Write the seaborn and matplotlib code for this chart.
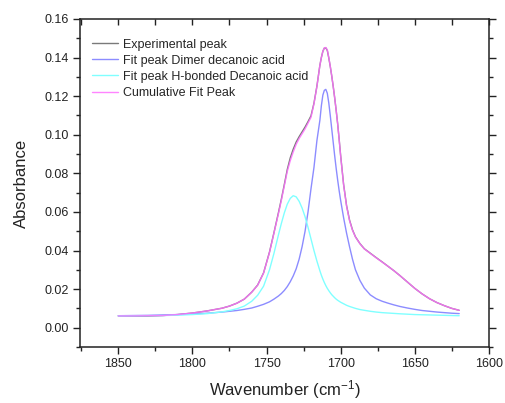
import numpy as np
import pandas as pd
import matplotlib
matplotlib.use("Agg")
import matplotlib.pyplot as plt
import seaborn as sns
from matplotlib.ticker import MultipleLocator, FormatStrFormatter

wavenumber = [1850, 1840, 1830, 1820, 1810, 1800, 1790, 1780, 1775, 1770, 1765, 1760,
              1756, 1752, 1748, 1745, 1742, 1740, 1738, 1736, 1734, 1732, 1730, 1728,
              1726, 1724, 1722, 1720, 1718, 1716, 1714, 1713, 1712, 1711, 1710, 1709,
              1708, 1707, 1706, 1705, 1704, 1703, 1702, 1701, 1700, 1698, 1696, 1694,
              1692, 1690, 1687, 1684, 1680, 1676, 1672, 1668, 1664, 1660, 1655, 1650,
              1645, 1640, 1635, 1630, 1625, 1620]

experimental = [0.0061, 0.0059, 0.0060, 0.0063, 0.0068, 0.0076, 0.0087, 0.0101, 0.0112, 0.0127,
                0.0148, 0.0184, 0.0221, 0.0284, 0.0392, 0.0492, 0.0595, 0.0666, 0.0742, 0.0820,
                0.0880, 0.0925, 0.0962, 0.0990, 0.1015, 0.1040, 0.1068, 0.1098, 0.1163, 0.1252,
                0.1360, 0.1400, 0.1432, 0.1449, 0.1450, 0.1437, 0.1398, 0.1354, 0.1304, 0.1250,
                0.1190, 0.1126, 0.1056, 0.0977, 0.0893, 0.0743, 0.0633, 0.0558, 0.0507, 0.0471,
                0.0436, 0.0409, 0.0386, 0.0363, 0.0341, 0.0318, 0.0295, 0.0270, 0.0237, 0.0204,
                0.0175, 0.0150, 0.0130, 0.0114, 0.0100, 0.0090]

cumulative = [0.0061, 0.0061, 0.0062, 0.0063, 0.0068, 0.0076, 0.0087, 0.0101, 0.0112, 0.0127,
              0.0148, 0.0184, 0.0220, 0.0283, 0.0390, 0.0490, 0.0590, 0.0660, 0.0735, 0.0810,
              0.0865, 0.0910, 0.0950, 0.0980, 0.1005, 0.1030, 0.1060, 0.1090, 0.1160, 0.1250,
              0.1360, 0.1400, 0.1432, 0.1450, 0.1452, 0.1440, 0.1400, 0.1355, 0.1305, 0.1250,
              0.1190, 0.1125, 0.1055, 0.0975, 0.0890, 0.0740, 0.0630, 0.0555, 0.0505, 0.0470,
              0.0435, 0.0408, 0.0385, 0.0362, 0.0340, 0.0318, 0.0295, 0.0270, 0.0237, 0.0204,
              0.0175, 0.0150, 0.0130, 0.0114, 0.0100, 0.0090]

dimer = [0.0062, 0.0063, 0.0064, 0.0066, 0.0068, 0.0071, 0.0075, 0.0081, 0.0085, 0.0089,
         0.0095, 0.0102, 0.0111, 0.0121, 0.0134, 0.0148, 0.0164, 0.0177, 0.0193, 0.0213,
         0.0238, 0.0268, 0.0305, 0.0355, 0.0420, 0.0500, 0.0600, 0.0720, 0.0830, 0.0970,
         0.1075, 0.1150, 0.1205, 0.1230, 0.1235, 0.1215, 0.1165, 0.1100, 0.1030, 0.0960,
         0.0890, 0.0825, 0.0765, 0.0710, 0.0660, 0.0570, 0.0490, 0.0420, 0.0355, 0.0300,
         0.0245, 0.0205, 0.0170, 0.0150, 0.0137, 0.0127, 0.0118, 0.0110, 0.0102, 0.0095,
         0.0089, 0.0085, 0.0081, 0.0078, 0.0075, 0.0073]

hbonded = [0.0061, 0.0061, 0.0062, 0.0063, 0.0065, 0.0068, 0.0073, 0.0082, 0.0089, 0.0098,
           0.0112, 0.0137, 0.0168, 0.0215, 0.0300, 0.0385, 0.0480, 0.0540, 0.0595, 0.0640,
           0.0670, 0.0684, 0.0678, 0.0655, 0.0620, 0.0575, 0.0520, 0.0460, 0.0400, 0.0345,
           0.0295, 0.0272, 0.0252, 0.0234, 0.0218, 0.0204, 0.0192, 0.0181, 0.0171, 0.0163,
           0.0155, 0.0148, 0.0142, 0.0137, 0.0132, 0.0124, 0.0116, 0.0110, 0.0105, 0.0100,
           0.0094, 0.0090, 0.0085, 0.0081, 0.0078, 0.0076, 0.0074, 0.0072, 0.0070, 0.0068,
           0.0067, 0.0066, 0.0065, 0.0064, 0.0063, 0.0062]

series_names = ["Experimental peak", "Fit peak Dimer decanoic acid",
                "Fit peak H-bonded Decanoic acid", "Cumulative Fit Peak"]
series_colors = ["#7a7a7a", "#8c8cff", "#80ffff", "#ff70ff"]

sns.set_style("ticks")
plt.rcParams["font.family"] = ["Liberation Sans", "DejaVu Sans"]
plt.rcParams["mathtext.default"] = "regular"

df = pd.DataFrame({
    "Wavenumber": wavenumber * 4,
    "Absorbance": experimental + dimer + hbonded + cumulative,
    "Series": sum([[n] * len(wavenumber) for n in series_names], []),
})

fig = plt.figure(figsize=(5.05, 4.03), dpi=100)
ax = fig.add_axes([0.158, 0.139, 0.81, 0.814])

for name, color in zip(series_names, series_colors):
    sub = df[df["Series"] == name]
    sns.lineplot(data=sub, x="Wavenumber", y="Absorbance", ax=ax, color=color,
                 linewidth=1.0, label=name, sort=False, estimator=None,
                 alpha=0.85 if name == "Cumulative Fit Peak" else 1.0)

ax.set_xlim(1876, 1600)
ax.set_ylim(-0.01, 0.16)
ax.xaxis.set_major_locator(MultipleLocator(50))
ax.xaxis.set_minor_locator(MultipleLocator(25))
ax.yaxis.set_major_locator(MultipleLocator(0.02))
ax.yaxis.set_minor_locator(MultipleLocator(0.01))
ax.yaxis.set_major_formatter(FormatStrFormatter("%.2f"))

ax.tick_params(axis="both", which="major", direction="out", length=5, width=1,
               labelsize=9, colors="#222222", labelcolor="#222222", pad=3)
ax.tick_params(axis="both", which="minor", direction="out", length=3, width=1,
               colors="#222222")
ax.tick_params(top=True, right=True, which="both")
for t in ax.xaxis.get_major_ticks() + ax.xaxis.get_minor_ticks():
    t.tick2line.set_marker(3)
    t.tick2line.set_markersize(4)
for t in ax.yaxis.get_major_ticks():
    t.tick2line.set_marker(1)
    t.tick2line.set_markersize(5)
for t in ax.yaxis.get_minor_ticks():
    t.tick2line.set_marker(1)
    t.tick2line.set_markersize(3)

for s in ax.spines.values():
    s.set_linewidth(1.1)
    s.set_color("#222222")

ax.set_xlabel("Wavenumber (cm$^{-1}$)", fontsize=12, color="#222222", labelpad=6)
ax.set_ylabel("Absorbance", fontsize=12, color="#222222", labelpad=11)

leg = ax.legend(loc="upper left", frameon=False, fontsize=9, handlelength=2.1,
                handletextpad=0.4, labelspacing=0.33, borderpad=0, borderaxespad=0,
                bbox_to_anchor=(0.029, 0.94))
for line in leg.get_lines():
    line.set_linewidth(1.0)

fig.savefig("out.png", dpi=100)
